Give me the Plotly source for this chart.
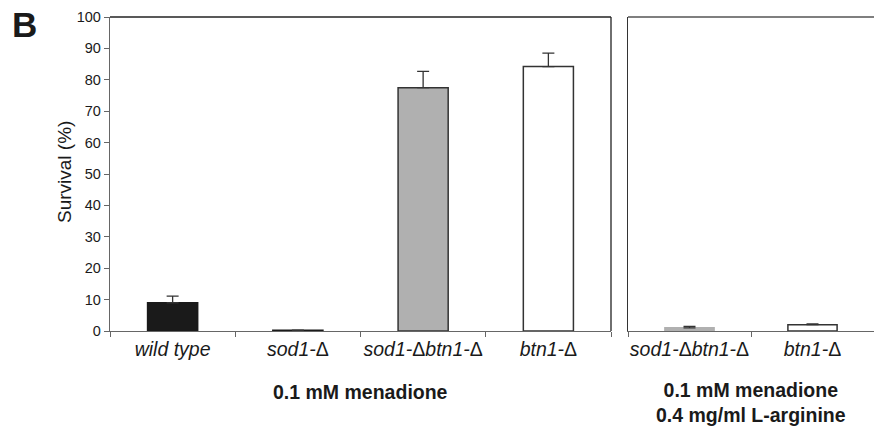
import plotly.graph_objects as go

# ---- data ----
categories_left = ["wild type", "sod1-Δ", "sod1-Δbtn1-Δ", "btn1-Δ"]
labels_left = ["<i>wild type</i>", "<i>sod1-</i>Δ", "<i>sod1-</i>Δ<i>btn1-</i>Δ", "<i>btn1-</i>Δ"]
survival_left = [9.0, 0.2, 77.5, 84.2]
error_left = [2.1, 0.1, 5.2, 4.3]
fill_left = ["#1a1a1a", "#1a1a1a", "#b0b0b0", "#ffffff"]
line_left = ["#1a1a1a", "#1a1a1a", "#333333", "#333333"]

categories_right = ["sod1-Δbtn1-Δ", "btn1-Δ"]
labels_right = ["<i>sod1-</i>Δ<i>btn1-</i>Δ", "<i>btn1-</i>Δ"]
survival_right = [1.0, 2.0]
error_right = [0.5, 0.3]
fill_right = ["#b0b0b0", "#ffffff"]
line_right = ["#b0b0b0", "#333333"]

y_ticks = [0, 10, 20, 30, 40, 50, 60, 70, 80, 90, 100]
group_left = "0.1 mM menadione"
group_right = "0.1 mM menadione<br>0.4 mg/ml L-arginine"

FONT = "Liberation Sans, Arial, sans-serif"
W, H = 874, 426

fig = go.Figure()
fig.add_trace(go.Bar(
    x=categories_left, y=survival_left, width=0.4,
    marker=dict(color=fill_left, line=dict(color=line_left, width=1.5)),
    error_y=dict(type="data", array=error_left, arrayminus=[0]*4, symmetric=False,
                 color="#333333", thickness=1.3, width=6),
    xaxis="x", yaxis="y", showlegend=False))
fig.add_trace(go.Bar(
    x=categories_right, y=survival_right, width=0.4,
    marker=dict(color=fill_right, line=dict(color=line_right, width=1.5)),
    error_y=dict(type="data", array=error_right, arrayminus=[0]*2, symmetric=False,
                 color="#333333", thickness=1.3, width=6),
    xaxis="x2", yaxis="y2", showlegend=False))

y0 = 1 - 331 / H
y1 = 1 - 17 / H
xl0, xl1 = 110 / W, 611 / W
xr0, xr1 = 628 / W, 1.0

axis_common = dict(showline=True, linecolor="#666666", linewidth=1.3,
                   ticks="outside", ticklen=5, tickcolor="#666666",
                   showgrid=False, zeroline=False, automargin=False)

fig.update_layout(
    width=W, height=H,
    margin=dict(l=0, r=0, t=0, b=0),
    paper_bgcolor="white", plot_bgcolor="white",
    font=dict(family=FONT, color="#1a1a1a"),
    xaxis=dict(domain=[xl0, xl1], type="category", tickson="boundaries",
               tickvals=categories_left, ticktext=labels_left, tickangle=0,
               tickfont=dict(size=19.5, color="#1a1a1a"),
               anchor="y", **axis_common),
    yaxis=dict(domain=[y0, y1], range=[0, 100], tickvals=y_ticks,
               tickfont=dict(size=14.5, color="#1a1a1a"),
               anchor="x", **axis_common),
    xaxis2=dict(domain=[xr0, xr1], type="category", tickson="boundaries",
                tickvals=categories_right, ticktext=labels_right, tickangle=0,
                tickfont=dict(size=19.5, color="#1a1a1a"),
                anchor="y2", **axis_common),
    yaxis2=dict(domain=[y0, y1], range=[0, 100], showticklabels=False,
                showline=True, linecolor="#333333", linewidth=1.3, ticks="",
                showgrid=False, zeroline=False, anchor="x2"),
)

# panel borders (top edges, right edge of left panel)
shapes = [
    dict(type="line", xref="x domain", yref="y domain", x0=0, x1=1, y0=1, y1=1,
         line=dict(color="#222222", width=1.3)),
    dict(type="line", xref="x domain", yref="y domain", x0=1, x1=1, y0=0, y1=1,
         line=dict(color="#222222", width=1.3)),
    dict(type="line", xref="x2 domain", yref="y2 domain", x0=0, x1=1, y0=1, y1=1,
         line=dict(color="#555555", width=1.3)),
]
fig.update_layout(shapes=shapes)

fig.add_annotation(text="Survival (%)", textangle=-90, x=64 / W, y=1 - 172 / H,
                   xref="paper", yref="paper", xanchor="center", yanchor="middle",
                   showarrow=False, font=dict(size=19, family=FONT, color="#1a1a1a"))
fig.add_annotation(text="<b>B</b>", x=24 / W, y=1 - 25 / H, xref="paper", yref="paper",
                   xanchor="center", yanchor="middle", showarrow=False,
                   font=dict(size=35, family=FONT, color="#1a1a1a"))
fig.add_annotation(text="<b>" + group_left + "</b>", x=(xl0 + xl1) / 2, y=1 - 392 / H,
                   xref="paper", yref="paper", xanchor="center", yanchor="middle",
                   showarrow=False, font=dict(size=19.5, family=FONT, color="#1a1a1a"))
fig.add_annotation(text="<b>" + group_right + "</b>", x=(xr0 + xr1) / 2, y=1 - 402 / H,
                   xref="paper", yref="paper", xanchor="center", yanchor="middle",
                   showarrow=False, font=dict(size=19.5, family=FONT, color="#1a1a1a"))

fig.write_html("out.html", config={"displayModeBar": False},
               post_script="document.body.style.margin='0';document.body.style.overflow='hidden';")
